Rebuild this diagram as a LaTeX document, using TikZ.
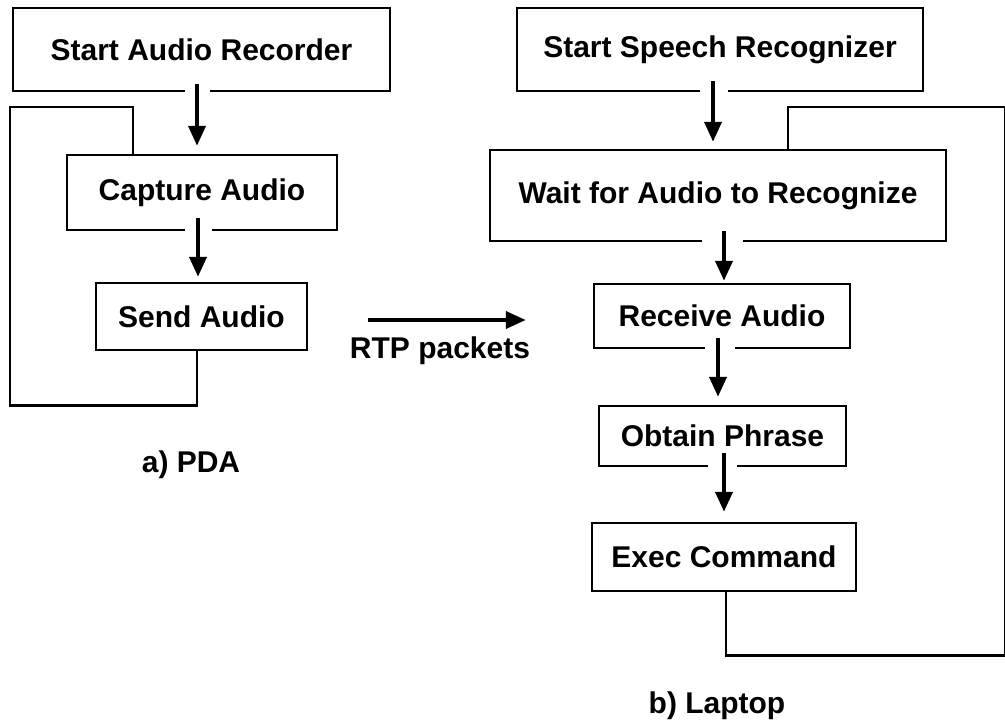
\documentclass[tikz,border=0pt]{standalone}
\usepackage{fontspec}
\setmainfont{Liberation Sans}
\usetikzlibrary{arrows.meta,calc}
\begin{document}
\begin{tikzpicture}[x=1pt,y=-1pt,
  txt/.style={font=\bfseries\fontsize{30}{36}\selectfont, inner sep=0pt},
  box/.style={txt, draw, line width=2.5pt},
  arr/.style={line width=4pt, -{Triangle[width=17pt,length=20pt]}},
  gap/.style={draw=white, line width=6pt},
  loopline/.style={line width=2.5pt}]

% page
\path[use as bounding box, fill=white] (0,0) rectangle (1005,721);

% PDA side
\node[box, minimum width=377, minimum height=83] (s1) at (201.5,49.5) {Start Audio Recorder};
\node[box, minimum width=270, minimum height=75] (s2) at (202,192.5) {Capture Audio};
\node[box, minimum width=211, minimum height=67] (s3) at (201.5,316.5) {Send Audio};

% Laptop side
\node[box, minimum width=406, minimum height=83] (r1) at (720,49.5) {Start Speech Recognizer};
\node[box, minimum width=456, minimum height=91] (r2) at (718,195.5) {Wait for Audio to Recognize};
\node[box, minimum width=256, minimum height=64] (r3) at (722,316) {Receive Audio};
\node[box, minimum width=247, minimum height=60] (r4) at (722.5,436) {Obtain Phrase};
\node[box, minimum width=264, minimum height=68] (r5) at (724,557) {Exec Command};

% captions
\node[txt, anchor=base] (rtp) at (440,358) {RTP packets};
\node[txt, anchor=base] (pda) at (191,472) {a) PDA};
\node[txt, anchor=base] (lap) at (717,713) {b) Laptop};

% openings in the bottom edges where the arrows leave
\draw[gap] ($(s1.south)+(-16.5,0)$) -- ($(s1.south)+(8.5,0)$);
\draw[gap] ($(s2.south)+(-17,0)$) -- ($(s2.south)+(10,0)$);
\draw[gap] ($(r1.south)+(-20,0)$) -- ($(r1.south)+(8,0)$);
\draw[gap] ($(r2.south)+(-16,0)$) -- ($(r2.south)+(25,0)$);
\draw[gap] ($(r3.south)+(-17,0)$) -- ($(r3.south)+(13,0)$);
\draw[gap] ($(r4.south)+(-14.5,0)$) -- ($(r4.south)+(14.5,0)$);

% flow arrows
\draw[arr] ($(s1.south)+(-4.5,-8)$) -- ($(s2.north)+(-5,-8)$);
\draw[arr] ($(s2.south)+(-4,-13)$) -- ($(s3.north)+(-3.5,-5)$);
\draw[arr] ($(r1.south)+(-7,-11)$) -- ($(r2.north)+(-5,-7)$);
\draw[arr] ($(r2.south)+(6,-11)$) -- ($(r3.north)+(2,-2)$);
\draw[arr] ($(r3.south)+(-4,-11)$) -- ($(r4.north)+(-4.5,-8)$);
\draw[arr] ($(r4.south)+(1.5,-14)$) -- ($(r5.north)+(0,-10)$);

% RTP transfer
\draw[arr] ($(s3.east)+(60,3.5)$) -- ($(r3.west)+(-67,4)$);

% repeat loops
\draw[loopline] ($(s3.south)+(-4.5,0)$) -- ++(0,54) -| (10,107) -| ($(s2.north)+(-69,0)$);
\draw[loopline] ($(r5.south)+(2,0)$) -- ++(0,63) -| (1005.5,107) -| ($(r2.north)+(70,0)$);
\end{tikzpicture}
\end{document}
